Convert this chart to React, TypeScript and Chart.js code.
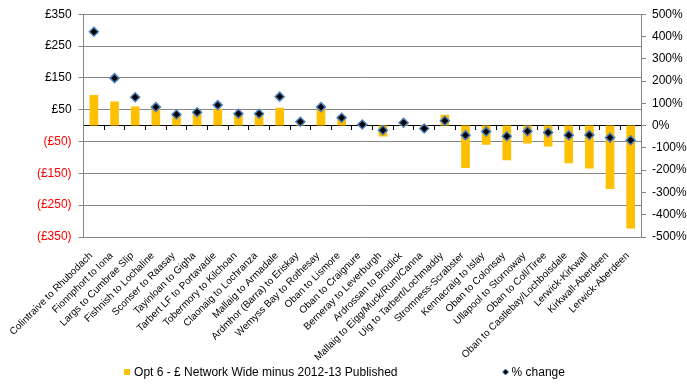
import React, { useEffect, useRef } from "react";
import { Chart, registerables } from "chart.js";

Chart.register(...registerables);

const routes = [
  "Colintraive to Rhubodach",
  "Fionnphort to Iona",
  "Largs to Cumbrae Slip",
  "Fishnish to Lochaline",
  "Sconser to Raasay",
  "Tayinloan to Gigha",
  "Tarbert LF to Portavadie",
  "Tobermory to Kilchoan",
  "Claonaig to Lochranza",
  "Mallaig to Armadale",
  "Ardmhor (Barra) to Eriskay",
  "Wemyss Bay to Rothesay",
  "Oban to Lismore",
  "Oban to Craignure",
  "Berneray to Leverburgh",
  "Ardrossan to Brodick",
  "Mallaig to Eigg/Muck/Rum/Canna",
  "Uig to Tarbert/Lochmaddy",
  "Stromness-Scrabster",
  "Kennacraig to Islay",
  "Oban to Colonsay",
  "Ullapool to Stornoway",
  "Oban to Coll/Tiree",
  "Oban to Castlebay/Lochboisdale",
  "Lerwick-Kirkwall",
  "Kirkwall-Aberdeen",
  "Lerwick-Aberdeen",
];

const savings = [
  96, 76, 60, 63, 35, 42, 53, 37, 37, 56, 3, 54, 31, 2, -34, 3, -3, 34, -133, -60,
  -109, -56, -66, -118, -135, -199, -323,
];

const pctChange = [
  421, 213, 127, 83, 50, 60, 92, 53, 53, 130, 17, 83, 35, 5, -21, 13, -13, 22, -43,
  -27, -48, -25, -31, -43, -42, -54, -66,
];

const leftTickValues = [350, 250, 150, 50, -50, -150, -250, -350];
const rightTickValues = [500, 400, 300, 200, 100, 0, -100, -200, -300, -400, -500];

const barLabel = "Opt 6 - £ Network Wide minus 2012-13 Published";
const pctLabel = "% change";

const BAR_COLOR = "#FFC000";
const MARKER_FILL = "#000000";
const MARKER_EDGE = "#4F81BD";
const GRID = "#868686";
const FONT = '"Liberation Sans", Arial, sans-serif';

const legendPlugin = {
  id: "customLegend",
  afterDraw(chart: any) {
    const ctx = chart.ctx;
    const ds = chart.data.datasets;
    const barDs = ds.find((d: any) => d.type === "bar");
    const ptDs = ds.find((d: any) => d.type === "line");
    ctx.save();
    ctx.font = `12px ${FONT}`;
    ctx.textBaseline = "middle";
    const y = 372;
    const t1 = ctx.measureText(barDs.label).width;
    const t2 = ctx.measureText(ptDs.label).width;
    const gap = 105;
    const w1 = 6 + 4 + t1;
    const w2 = 6 + 3 + t2;
    const total = w1 + gap + w2;
    let x = (chart.width - total) / 2 + 1;
    ctx.fillStyle = barDs.backgroundColor;
    ctx.fillRect(x, y - 3, 6, 6);
    ctx.fillStyle = "#000";
    ctx.textAlign = "left";
    ctx.fillText(barDs.label, x + 10, y + 0.5);
    x += w1 + gap;
    const cx = x + 3;
    ctx.beginPath();
    ctx.moveTo(cx, y - 3);
    ctx.lineTo(cx + 3, y);
    ctx.lineTo(cx, y + 3);
    ctx.lineTo(cx - 3, y);
    ctx.closePath();
    ctx.fillStyle = ptDs.pointBackgroundColor;
    ctx.fill();
    ctx.lineWidth = 1;
    ctx.strokeStyle = ptDs.pointBorderColor;
    ctx.stroke();
    ctx.fillStyle = "#000";
    ctx.fillText(ptDs.label, x + 9, y + 0.5);
    ctx.restore();
  },
};

function fmtMoney(v: number): string {
  if (v < 0) return `(£${Math.abs(v)})`;
  return `£${v}`;
}

export default function App() {
  const ref = useRef<HTMLCanvasElement | null>(null);

  useEffect(() => {
    if (!ref.current) return;
    Chart.defaults.font.family = FONT;
    const chart = new Chart(ref.current, {
      type: "bar",
      data: {
        labels: routes,
        datasets: [
          {
            type: "line",
            label: pctLabel,
            data: pctChange,
            yAxisID: "y1",
            xAxisID: "x",
            showLine: false,
            pointStyle: "rectRot",
            pointRadius: 4.5,
            pointBackgroundColor: MARKER_FILL,
            pointBorderColor: MARKER_EDGE,
            pointBorderWidth: 1.5,
            order: 0,
          } as any,
          {
            type: "bar",
            label: barLabel,
            data: savings,
            yAxisID: "y",
            xAxisID: "x",
            backgroundColor: BAR_COLOR,
            borderWidth: 0,
            barPercentage: 0.42,
            categoryPercentage: 1,
            order: 1,
          } as any,
        ],
      },
      options: {
        animation: false,
        responsive: false,
        maintainAspectRatio: false,
        layout: { padding: { top: 13, bottom: 0, left: 0, right: 0 } },
        plugins: {
          legend: { display: false },
          tooltip: { enabled: false },
        },
        scales: {
          x: {
            type: "category",
            position: "bottom",
            offset: true,
            grid: { display: false, drawTicks: false },
            border: { display: false },
            ticks: {
              autoSkip: false,
              minRotation: 45,
              maxRotation: 45,
              padding: 13,
              labelOffset: -3,
              color: "#000",
              font: { size: 10 },
            },
            afterFit: (s: any) => {
              s.height = 152;
            },
          },
          xZero: {
            type: "category",
            position: { y: 0 },
            offset: true,
            grid: {
              drawOnChartArea: false,
              drawTicks: true,
              tickLength: 4,
              color: "#000",
              offset: true,
            },
            border: { color: "#000", width: 1 },
            ticks: { display: false },
          } as any,
          y: {
            position: "left",
            min: -350,
            max: 350,
            afterBuildTicks: (s: any) => {
              s.ticks = leftTickValues.map((v) => ({ value: v }));
            },
            grid: { color: GRID, tickLength: 5 },
            border: { color: GRID },
            ticks: {
              callback: (v: any) => fmtMoney(Number(v)),
              color: (c: any) => (c.tick && c.tick.value < 0 ? "#FF0000" : "#000"),
              font: { size: 12 },
              padding: 7,
            },
            afterFit: (s: any) => {
              s.width = 81;
            },
          },
          y1: {
            position: "right",
            min: -500,
            max: 500,
            afterBuildTicks: (s: any) => {
              s.ticks = rightTickValues.map((v) => ({ value: v }));
            },
            grid: { drawOnChartArea: false, color: GRID, tickLength: 5 },
            border: { color: GRID },
            ticks: {
              callback: (v: any) => `${v}%`,
              color: "#000",
              font: { size: 12 },
              padding: 6,
            },
            afterFit: (s: any) => {
              s.width = 46;
            },
          },
        },
      },
      plugins: [legendPlugin],
    });
    return () => chart.destroy();
  }, []);

  return (
    <div style={{ position: "absolute", left: 0, top: 0, width: 687, height: 389, background: "#fff" }}>
      <canvas ref={ref} width={687} height={389} style={{ width: 687, height: 389, display: "block" }} />
    </div>
  );
}
